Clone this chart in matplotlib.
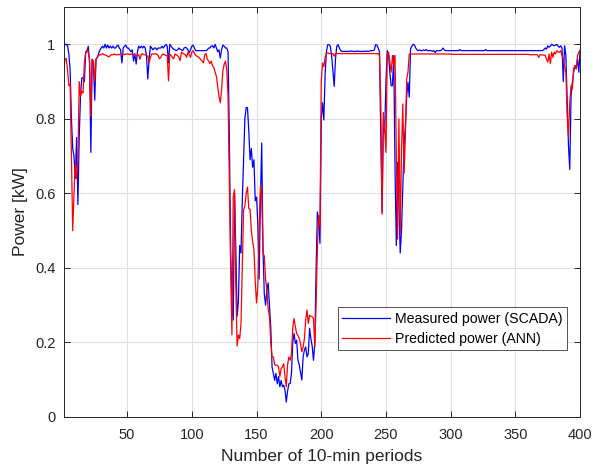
import matplotlib
matplotlib.use("Agg")
import matplotlib.pyplot as plt
import numpy as np

plt.rcParams['font.family'] = ['Liberation Sans', 'DejaVu Sans']

# measured power (SCADA), one value per 10-min period, periods 1..400
measured = [
    0.99, 1.00, 1.00, 0.995, 0.975, 0.93, 0.80, 0.72, 0.70, 0.64,
    0.75, 0.57, 0.75, 0.86, 0.91, 0.91, 0.90, 0.98, 0.98, 0.995,
    0.95, 0.71, 0.96, 0.95, 0.85, 0.96, 0.965, 0.975, 0.985, 0.99,
    0.995, 0.99, 1.0, 0.99, 0.998, 0.99, 0.995, 0.99, 0.995, 0.99,
    0.99, 0.995, 0.998, 0.99, 0.985, 0.95, 0.99, 0.995, 0.998, 0.99,
    0.99, 0.985, 0.98, 0.985, 0.955, 0.975, 0.947, 0.98, 0.995, 0.99,
    0.995, 0.99, 0.995, 0.99, 0.97, 0.907, 0.96, 0.995, 0.99, 0.985,
    0.99, 0.99, 0.985, 0.99, 0.99, 0.99, 0.995, 0.99, 0.995, 1.0,
    0.995, 0.95, 1.0, 0.995, 0.99, 0.987, 0.985, 0.983, 0.985, 0.99,
    0.987, 0.985, 0.983, 0.99, 0.992, 0.99, 0.985, 0.978, 0.985, 0.995,
    0.998, 0.99, 0.983, 0.983, 0.983, 0.983, 0.983, 0.983, 0.983, 0.983,
    0.983, 0.985, 0.99, 0.99, 0.995, 0.996, 0.99, 1.0, 0.99, 0.98,
    0.985, 0.963, 0.985, 0.998, 0.995, 0.99, 0.99, 0.98, 0.75, 0.45,
    0.30, 0.26, 0.60, 0.45, 0.27, 0.31, 0.46, 0.44, 0.58, 0.69,
    0.80, 0.83, 0.83, 0.77, 0.69, 0.72, 0.67, 0.69, 0.58, 0.59,
    0.52, 0.37, 0.58, 0.735, 0.45, 0.33, 0.30, 0.34, 0.36, 0.30,
    0.24, 0.134, 0.117, 0.098, 0.117, 0.089, 0.108, 0.081, 0.098, 0.081,
    0.085, 0.072, 0.04, 0.07, 0.089, 0.09, 0.117, 0.20, 0.224, 0.197,
    0.206, 0.152, 0.14, 0.12, 0.099, 0.161, 0.18, 0.188, 0.161, 0.17,
    0.238, 0.21, 0.19, 0.152, 0.197, 0.39, 0.55, 0.53, 0.466, 0.80,
    0.843, 0.797, 0.92, 0.98, 0.999, 0.999, 0.995, 0.97, 0.93, 0.887,
    0.96, 0.995, 0.999, 0.99, 0.983, 0.981, 0.981, 0.981, 0.981, 0.981,
    0.981, 0.981, 0.982, 0.981, 0.981, 0.981, 0.981, 0.982, 0.981, 0.981,
    0.981, 0.981, 0.981, 0.981, 0.982, 0.981, 0.981, 0.983, 0.983, 0.983,
    0.985, 0.999, 0.998, 0.99, 0.98, 0.75, 0.55, 0.80, 0.764, 0.90,
    0.983, 0.97, 0.925, 0.889, 0.889, 0.97, 0.665, 0.46, 0.683, 0.575,
    0.44, 0.50, 0.62, 0.73, 0.78, 0.86, 0.898, 0.858, 0.988, 0.995,
    1.0, 0.998, 0.99, 0.985, 0.983, 0.985, 0.983, 0.983, 0.985, 0.983,
    0.986, 0.983, 0.983, 0.983, 0.983, 0.981, 0.983, 0.978, 0.983, 0.983,
    0.983, 0.983, 0.985, 0.99, 0.985, 0.983, 0.983, 0.983, 0.983, 0.983,
    0.983, 0.983, 0.983, 0.983, 0.983, 0.983, 0.986, 0.983, 0.983, 0.983,
    0.983, 0.983, 0.983, 0.983, 0.983, 0.983, 0.983, 0.983, 0.983, 0.983,
    0.983, 0.983, 0.983, 0.983, 0.983, 0.983, 0.986, 0.983, 0.983, 0.983,
    0.983, 0.983, 0.983, 0.983, 0.983, 0.983, 0.983, 0.983, 0.983, 0.983,
    0.983, 0.983, 0.983, 0.983, 0.983, 0.983, 0.983, 0.983, 0.983, 0.983,
    0.983, 0.983, 0.983, 0.983, 0.983, 0.983, 0.983, 0.983, 0.983, 0.983,
    0.983, 0.983, 0.983, 0.983, 0.983, 0.983, 0.983, 0.983, 0.983, 0.983,
    0.983, 0.986, 0.99, 0.987, 0.996, 0.992, 0.995, 1.0, 0.998, 0.996,
    0.998, 1.0, 0.995, 0.992, 0.996, 0.99, 0.90, 0.996, 0.97, 0.844,
    0.728, 0.664, 0.862, 0.898, 0.925, 0.943, 0.934, 0.961, 0.925, 0.985,
]

# predicted power (ANN), same periods
predicted = [
    0.925, 0.96, 0.962, 0.93, 0.889, 0.893, 0.70, 0.50, 0.60, 0.68,
    0.64, 0.683, 0.90, 0.86, 0.874, 0.869, 0.95, 0.975, 0.985, 0.98,
    0.96, 0.806, 0.959, 0.955, 0.90, 0.96, 0.965, 0.97, 0.972, 0.972,
    0.975, 0.972, 0.972, 0.97, 0.968, 0.966, 0.97, 0.972, 0.972, 0.974,
    0.972, 0.972, 0.972, 0.972, 0.974, 0.974, 0.974, 0.972, 0.974, 0.974,
    0.974, 0.972, 0.974, 0.974, 0.972, 0.97, 0.968, 0.97, 0.972, 0.96,
    0.974, 0.974, 0.972, 0.972, 0.97, 0.968, 0.95, 0.965, 0.974, 0.974,
    0.974, 0.974, 0.974, 0.97, 0.961, 0.965, 0.972, 0.974, 0.972, 0.97,
    0.97, 0.902, 0.974, 0.97, 0.965, 0.961, 0.974, 0.972, 0.97, 0.965,
    0.956, 0.979, 0.976, 0.974, 0.972, 0.965, 0.979, 0.972, 0.965, 0.979,
    0.983, 0.976, 0.97, 0.968, 0.966, 0.963, 0.958, 0.955, 0.95, 0.972,
    0.975, 0.96, 0.955, 0.948, 0.955, 0.942, 0.938, 0.925, 0.914, 0.887,
    0.86, 0.843, 0.878, 0.93, 0.946, 0.955, 0.932, 0.86, 0.62, 0.40,
    0.22, 0.59, 0.61, 0.35, 0.19, 0.22, 0.21, 0.25, 0.40, 0.556,
    0.566, 0.60, 0.617, 0.56, 0.557, 0.50, 0.47, 0.45, 0.364, 0.306,
    0.35, 0.50, 0.62, 0.60, 0.44, 0.432, 0.37, 0.342, 0.29, 0.27,
    0.20, 0.161, 0.161, 0.14, 0.139, 0.139, 0.134, 0.108, 0.13, 0.134,
    0.143, 0.108, 0.081, 0.14, 0.161, 0.152, 0.17, 0.24, 0.264, 0.242,
    0.224, 0.219, 0.21, 0.197, 0.175, 0.188, 0.21, 0.26, 0.287, 0.251,
    0.273, 0.27, 0.269, 0.264, 0.188, 0.30, 0.45, 0.54, 0.51, 0.90,
    0.95, 0.94, 0.965, 0.975, 0.977, 0.975, 0.975, 0.975, 0.975, 0.968,
    0.975, 0.975, 0.975, 0.975, 0.975, 0.975, 0.975, 0.975, 0.975, 0.975,
    0.975, 0.975, 0.975, 0.975, 0.975, 0.975, 0.975, 0.975, 0.975, 0.975,
    0.975, 0.975, 0.975, 0.975, 0.975, 0.975, 0.975, 0.975, 0.975, 0.975,
    0.975, 0.975, 0.975, 0.975, 0.97, 0.844, 0.544, 0.817, 0.772, 0.71,
    0.975, 0.979, 0.952, 0.925, 0.97, 0.943, 0.97, 0.71, 0.477, 0.80,
    0.493, 0.71, 0.84, 0.654, 0.754, 0.907, 0.925, 0.974, 0.974, 0.974,
    0.974, 0.974, 0.974, 0.974, 0.974, 0.974, 0.974, 0.974, 0.974, 0.974,
    0.974, 0.974, 0.974, 0.974, 0.974, 0.974, 0.974, 0.974, 0.974, 0.974,
    0.974, 0.974, 0.974, 0.974, 0.974, 0.974, 0.974, 0.974, 0.974, 0.974,
    0.973, 0.973, 0.973, 0.973, 0.973, 0.973, 0.973, 0.973, 0.973, 0.973,
    0.973, 0.973, 0.973, 0.973, 0.973, 0.973, 0.973, 0.973, 0.973, 0.973,
    0.973, 0.973, 0.973, 0.973, 0.973, 0.973, 0.973, 0.973, 0.973, 0.973,
    0.973, 0.973, 0.973, 0.973, 0.973, 0.973, 0.973, 0.973, 0.973, 0.973,
    0.973, 0.973, 0.973, 0.973, 0.973, 0.973, 0.973, 0.973, 0.973, 0.973,
    0.973, 0.973, 0.973, 0.973, 0.973, 0.973, 0.973, 0.973, 0.973, 0.973,
    0.972, 0.972, 0.972, 0.972, 0.972, 0.972, 0.972, 0.965, 0.972, 0.972,
    0.971, 0.971, 0.971, 0.96, 0.952, 0.974, 0.948, 0.979, 0.965, 0.979,
    0.974, 0.983, 0.979, 0.979, 0.983, 0.97, 0.961, 0.94, 0.925, 0.808,
    0.754, 0.844, 0.889, 0.88, 0.934, 0.943, 0.934, 0.97, 0.979, 0.983,
]

periods = np.arange(1, len(measured) + 1)
x_ticks = [50, 100, 150, 200, 250, 300, 350, 400]
y_ticks = [0, 0.2, 0.4, 0.6, 0.8, 1]

fig = plt.figure(figsize=(5.95, 4.69), dpi=100)
ax = fig.add_axes([0.107, 0.111, 0.868, 0.874])

ax.plot(periods, measured, color='#0000ff', lw=0.9, label='Measured power (SCADA)')
ax.plot(periods, predicted, color='#ff0000', lw=0.9, label='Predicted power (ANN)')

ax.set_xlim(1, 400)
ax.set_ylim(0, 1.1)
ax.set_xticks(x_ticks)
ax.set_yticks(y_ticks)
ax.set_yticklabels(['0', '0.2', '0.4', '0.6', '0.8', '1'])

ax.grid(True, color='#e0e0e0', lw=0.8)
ax.set_axisbelow(True)
ax.tick_params(direction='in', top=True, right=True, length=4, width=0.7,
               colors='#262626', labelsize=10.5)
ax.tick_params(axis='x', pad=8)
ax.tick_params(axis='y', pad=6)
for sp in ax.spines.values():
    sp.set_color('#262626')
    sp.set_linewidth(0.7)

ax.set_xlabel('Number of 10-min periods', fontsize=12.5, color='#262626', labelpad=5)
ax.set_ylabel('Power [kW]', fontsize=12.5, color='#262626', labelpad=5)

leg = ax.legend(loc='lower right', bbox_to_anchor=(0.975, 0.163), borderaxespad=0,
                fontsize=10.2, frameon=True, fancybox=False, edgecolor='#262626',
                handlelength=3.4, handletextpad=0.36, borderpad=0.3,
                labelspacing=0.45)
leg.get_frame().set_linewidth(0.7)

fig.savefig('out.png', dpi=100)
